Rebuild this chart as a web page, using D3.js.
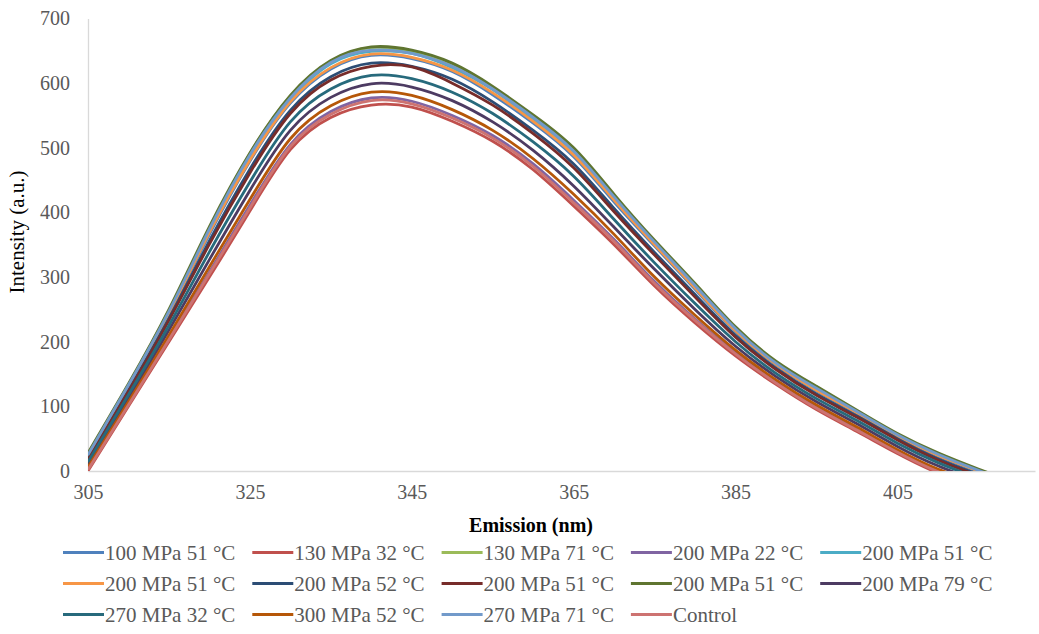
<!DOCTYPE html>
<html>
<head>
<meta charset="utf-8">
<script src="https://cdn.jsdelivr.net/npm/d3@7.9.0/dist/d3.min.js"></script>
<style>
  body { margin: 0; background: #fff; }
  svg text { font-family: 'Liberation Serif', 'DejaVu Serif', 'Times New Roman', serif; }
</style>
</head>
<body>
<svg id="chart" width="1039" height="634"></svg>
<script>
// emission wavelengths (nm), sampled every 5 nm
const emission = [305, 310, 315, 320, 325, 330, 335, 340, 345, 350, 355, 360,
                  365, 370, 375, 380, 385, 390, 395, 400, 405, 410, 415, 420];
const xTicks = [305, 325, 345, 365, 385, 405];
const yTicks = [0, 100, 200, 300, 400, 500, 600, 700];

// intensities (a.u.)
const p100t51   = [20, 130, 243, 366, 479, 569, 622, 643, 638, 618, 582, 538, 486, 416, 348, 281, 216, 164, 124, 89, 54, 23, -1, -24];
const p130t32   = [0, 100, 200, 300, 402, 497, 547, 566, 563, 541, 510, 466, 410, 350, 286, 229, 178, 134, 95, 61, 27, -3, -25, -45];
const p130t71   = [26, 133, 248, 375, 491, 580, 634, 655, 648, 628, 592, 548, 496, 425, 355, 288, 221, 168, 128, 92, 56, 27, 2, -21];
const p200t22   = [3, 104, 205, 308, 411, 505, 556, 577, 572, 550, 519, 475, 419, 358, 293, 235, 183, 138, 99, 64, 30, 0, -22, -43];
const p200t51c  = [24, 131, 246, 372, 487, 574, 630, 649, 646, 624, 590, 544, 494, 422, 353, 285, 219, 166, 127, 91, 55, 26, 0, -22];
const p200t51o  = [9, 131, 244, 369, 481, 571, 624, 645, 640, 620, 585, 541, 489, 419, 350, 283, 217, 165, 125, 90, 54, 24, 0, -23];
const p200t52   = [17, 125, 236, 356, 467, 558, 610, 631, 626, 606, 571, 527, 475, 406, 338, 273, 210, 159, 119, 85, 50, 19, -5, -27];
const p200t51m  = [18, 123, 233, 351, 461, 553, 605, 626, 625, 600, 566, 522, 469, 401, 334, 269, 207, 157, 117, 83, 48, 17, -7, -28];
const p200t51g  = [28, 135, 250, 378, 492, 581, 635, 656, 651, 631, 595, 551, 500, 428, 357, 290, 223, 170, 131, 94, 58, 28, 3, -20];
const p200t79   = [10, 112, 218, 327, 434, 527, 578, 599, 594, 573, 540, 496, 441, 377, 312, 250, 193, 146, 107, 73, 38, 8, -15, -36];
const p270t32   = [14, 118, 225, 339, 447, 540, 591, 612, 607, 586, 553, 509, 456, 389, 322, 259, 200, 151, 112, 78, 43, 13, -11, -33];
const p300t52   = [6, 107, 210, 316, 420, 514, 565, 586, 581, 559, 527, 483, 428, 366, 300, 241, 187, 141, 102, 68, 33, 3, -19, -40];
const p270t71   = [25, 133, 247, 374, 489, 577, 632, 651, 646, 626, 591, 547, 495, 424, 354, 287, 220, 167, 128, 92, 56, 26, 1, -21];
const control   = [2, 102, 203, 305, 407, 502, 552, 573, 568, 546, 515, 471, 415, 355, 290, 233, 181, 136, 97, 63, 29, -1, -23, -44];

const seriesNames = ['100 MPa 51 °C', '130 MPa 32 °C', '130 MPa 71 °C', '200 MPa 22 °C', '200 MPa 51 °C',
                     '200 MPa 51 °C', '200 MPa 52 °C', '200 MPa 51 °C', '200 MPa 51 °C', '200 MPa 79 °C',
                     '270 MPa 32 °C', '300 MPa 52 °C', '270 MPa 71 °C', 'Control'];
const seriesValues = [p100t51, p130t32, p130t71, p200t22, p200t51c, p200t51o, p200t52,
                      p200t51m, p200t51g, p200t79, p270t32, p300t52, p270t71, control];
const colors = ['#4F81BD', '#C0504D', '#9BBB59', '#8064A2', '#4BACC6', '#F79646', '#2C4D75',
                '#772C2A', '#5F7530', '#4D3B62', '#276A7C', '#B65708', '#729ACA', '#CD7371'];

const serif = "'Liberation Serif', 'DejaVu Serif', 'Times New Roman', serif";

const svg = d3.select('#chart');
const x = d3.scaleLinear().domain([305, 422]).range([88, 1035]);
const y = d3.scaleLinear().domain([0, 700]).range([471, 18.5]);

// clip so negative tails stop at the axis
svg.append('clipPath').attr('id', 'plot-clip')
    .append('rect')
    .attr('x', x(305)).attr('y', 0)
    .attr('width', x(422) - x(305)).attr('height', y(0));

// axes
const xAxis = svg.append('g')
    .attr('transform', `translate(0,${y(0)})`)
    .call(d3.axisBottom(x).tickValues(xTicks).tickSize(0).tickPadding(14));
const yAxis = svg.append('g')
    .attr('transform', `translate(${x(305)},0)`)
    .call(d3.axisLeft(y).tickValues(yTicks).tickSize(0).tickPadding(18));
[xAxis, yAxis].forEach((g) => {
    g.attr('font-family', null).attr('font-size', null);
    g.select('.domain').attr('stroke', '#d9d9d9').attr('stroke-width', 1.3);
    g.selectAll('text')
        .attr('fill', '#595959')
        .style('font-size', '20px')
        .style('font-family', serif);
});

// lines
const line = d3.line()
    .x((d, i) => x(emission[i]))
    .y((d) => y(d))
    .curve(d3.curveNatural);

const plot = svg.append('g').attr('clip-path', 'url(#plot-clip)');
seriesValues.forEach((vals, idx) => {
    plot.append('path')
        .attr('d', line(vals))
        .attr('fill', 'none')
        .attr('stroke', colors[idx])
        .attr('stroke-width', 2.8)
        .attr('stroke-linejoin', 'round');
});

// axis titles
svg.append('text')
    .attr('x', 531).attr('y', 532)
    .attr('text-anchor', 'middle')
    .style('font-size', '20px')
    .style('font-weight', 'bold')
    .style('font-family', serif)
    .attr('fill', '#000')
    .text('Emission (nm)');
svg.append('text')
    .attr('transform', 'translate(24,232) rotate(-90)')
    .attr('text-anchor', 'middle')
    .style('font-size', '21px')
    .style('font-family', serif)
    .attr('fill', '#000')
    .text('Intensity (a.u.)');

// legend, 5 per row
const legend = svg.append('g');
seriesNames.forEach((name, idx) => {
    const col = idx % 5;
    const row = Math.floor(idx / 5);
    const lx = 63 + col * 189.3;
    const ly = 552.5 + row * 31;
    legend.append('line')
        .attr('x1', lx).attr('x2', lx + 41)
        .attr('y1', ly).attr('y2', ly)
        .attr('stroke', colors[idx])
        .attr('stroke-width', 3);
    legend.append('text')
        .attr('x', lx + 42).attr('y', ly)
        .attr('dy', '0.35em')
        .attr('fill', '#595959')
        .style('font-size', '21px')
        .style('font-family', serif)
        .text(name);
});
</script>
</body>
</html>
